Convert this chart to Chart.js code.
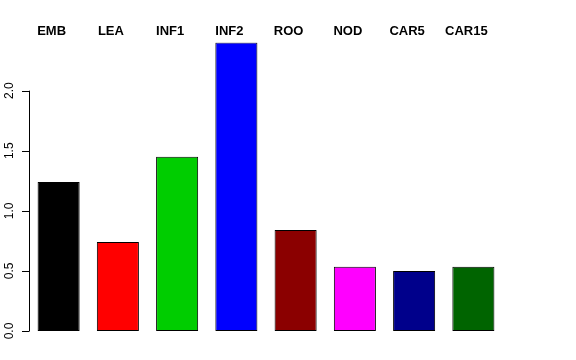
<!DOCTYPE html>
<html>
<head>
<meta charset="utf-8">
<script src="https://cdn.jsdelivr.net/npm/chart.js@4"></script>
<style>
  html, body { margin: 0; padding: 0; background: #fff; }
  #chart { display: block; }
</style>
</head>
<body>
<canvas id="chart" width="576" height="360"></canvas>
<script>
const categories = ["EMB", "LEA", "INF1", "INF2", "ROO", "NOD", "CAR5", "CAR15"];
const values = [1.24, 0.74, 1.45, 2.4, 0.84, 0.535, 0.5, 0.535];
const barColors = ["#000000", "#FF0000", "#00CD00", "#0000FF", "#8B0000", "#FF00FF", "#00008B", "#006400"];
const yTicks = [0, 0.5, 1, 1.5, 2];

// R-style left axis: line only across the tick range, rotated labels
const rAxis = {
  id: "rAxis",
  afterDraw(chart) {
    const ctx = chart.ctx;
    const y = chart.scales.y;
    const x0 = chart.chartArea.left;
    ctx.save();
    ctx.strokeStyle = "#000";
    ctx.lineWidth = 1;
    ctx.beginPath();
    ctx.moveTo(x0 + 0.5, y.getPixelForValue(yTicks[0]));
    ctx.lineTo(x0 + 0.5, y.getPixelForValue(yTicks[yTicks.length - 1]));
    yTicks.forEach((t) => {
      const py = Math.round(y.getPixelForValue(t)) + 0.5;
      ctx.moveTo(x0 + 0.5, py);
      ctx.lineTo(x0 - 7, py);
    });
    ctx.stroke();
    ctx.fillStyle = "#000";
    ctx.font = "12px 'Liberation Sans', Arial, sans-serif";
    ctx.textAlign = "center";
    ctx.textBaseline = "middle";
    yTicks.forEach((t) => {
      ctx.save();
      ctx.translate(10, y.getPixelForValue(t));
      ctx.rotate(-Math.PI / 2);
      ctx.fillText(t.toFixed(1), 0, 0);
      ctx.restore();
    });
    ctx.restore();
  },
};

new Chart(document.getElementById("chart"), {
  type: "bar",
  data: {
    labels: categories,
    datasets: [
      {
        data: values,
        backgroundColor: barColors,
        borderColor: "#000",
        borderWidth: 1,
        borderSkipped: false,
        categoryPercentage: 1,
        barPercentage: 0.71,
      },
    ],
  },
  options: {
    responsive: false,
    animation: false,
    devicePixelRatio: 1,
    layout: { padding: { left: 29, right: 73, top: 20, bottom: 29 } },
    plugins: { legend: { display: false }, tooltip: { enabled: false } },
    scales: {
      x: {
        position: "top",
        grid: { display: false, drawTicks: false },
        border: { display: false },
        ticks: {
          color: "#000",
          padding: 3.5,
          maxRotation: 0,
          autoSkip: false,
          labelOffset: -7,
          font: { family: "'Liberation Sans', Arial, sans-serif", size: 13, weight: "bold" },
        },
      },
      y: {
        display: false,
        min: 0,
        max: 2.4,
      },
    },
  },
  plugins: [rAxis],
});
</script>
</body>
</html>
